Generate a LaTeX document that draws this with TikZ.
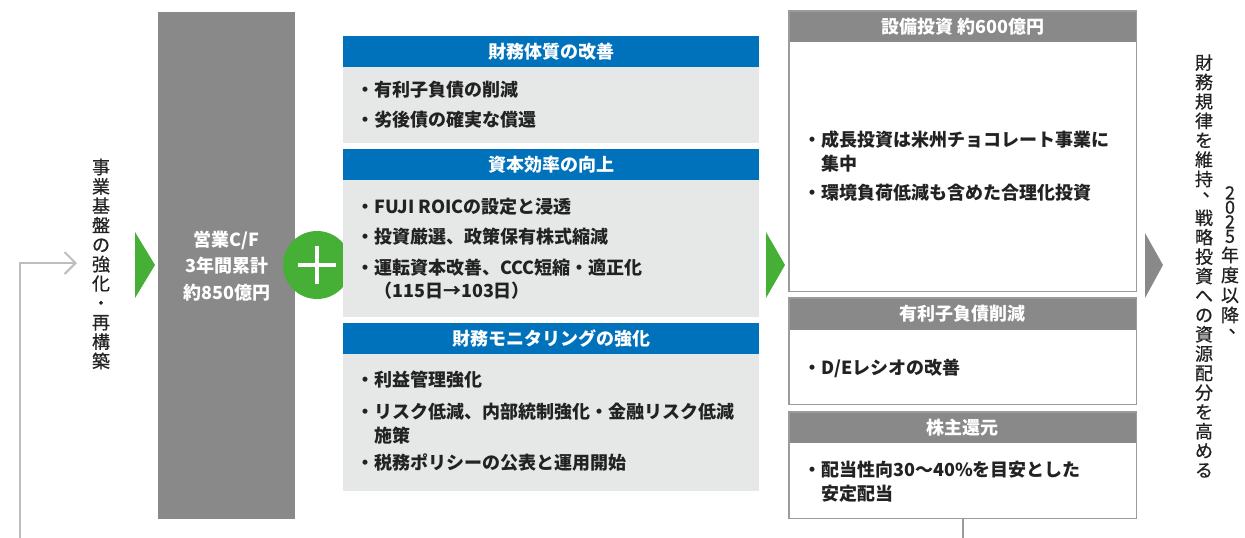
\documentclass[tikz,border=0pt]{standalone}
\usepackage{fontspec}
\setmainfont{Noto Sans CJK JP}
\newfontfamily\jpmed[FakeBold=0.7]{Noto Sans CJK JP}
\usetikzlibrary{arrows.meta}
\definecolor{cblue}{HTML}{0072BC}
\definecolor{cbody}{HTML}{E6E8E8}
\definecolor{cgray}{HTML}{898989}
\definecolor{cgreen}{HTML}{45B035}
\definecolor{clight}{HTML}{BDBDBD}
\definecolor{cborder}{HTML}{9B9B9B}
\definecolor{ctext}{HTML}{222222}
\newcommand{\vcm}{\makebox[1em][l]{\hspace*{0.42em}\raisebox{0.5em}{、}}}
\tikzset{
  hdrblue/.style={fill=cblue, anchor=north west, inner sep=0pt, minimum width=416pt, minimum height=31pt, text=white, font=\bfseries\fontsize{18}{22}\selectfont},
  bodyblue/.style={fill=cbody, anchor=north west, inner sep=0pt, minimum width=416pt},
  hdrgray/.style={fill=cgray, anchor=north west, inner sep=0pt, minimum width=347pt, minimum height=31pt, text=white, font=\bfseries\fontsize{18}{22}\selectfont},
  bodygray/.style={fill=white, anchor=north west, inner sep=0pt, minimum width=347pt},
  frame/.style={draw=cborder, line width=1.5pt},
  item/.style={anchor=west, inner sep=0pt, align=left, text=ctext, font=\bfseries\fontsize{18}{23.5}\selectfont},
  vtext/.style={inner sep=0pt, align=center, text=ctext, font=\jpmed\fontsize{18}{19.4}\selectfont},
  conn/.style={draw=clight, line width=2pt},
  conn2/.style={draw=cborder, line width=2pt},
}
\begin{document}
\begin{tikzpicture}[x=1pt,y=-1pt]
\useasboundingbox (0,0) rectangle (1245,538);

% left vertical text and feedback connector
\node[vtext] (ltext) at (101,264) {事\\業\\基\\盤\\の\\強\\化\\・\\再\\構\\築};
\coordinate (lstart) at (20,538);
\coordinate (lend) at (77,263);
\draw[conn,-{Straight Barb[length=11pt,width=22pt,line width=2pt]}] (lstart) |- (lend);

% green arrow 1
\fill[cgreen] (135,232) -- (155,265) -- (135,298) -- cycle;

% operating CF box
\node[fill=cgray, inner sep=0pt, minimum width=137pt, minimum height=507pt, anchor=north west, text=white, align=center, font=\bfseries\fontsize{18}{26.5}\selectfont] (cf) at (158,12) {営業C/F\\3年間累計\\約850億円};

% plus
\node[circle, fill=cgreen, minimum size=68pt, inner sep=0pt] (plus) at (317,265) {};
\draw[white, line width=4.7pt] ([xshift=-19pt]plus.center) -- ([xshift=19pt]plus.center);
\draw[white, line width=4.7pt] ([yshift=-19pt]plus.center) -- ([yshift=19pt]plus.center);

% section 1
\node[hdrblue] (s1h) at (343,36) {財務体質の改善};
\node[bodyblue, minimum height=76pt] (s1b) at (343,67) {};
\node[item] (s1i1) at (356,90) {・有利子負債の削減};
\node[item] (s1i2) at (356,120) {・劣後債の確実な償還};

% section 2
\node[hdrblue] (s2h) at (343,149) {資本効率の向上};
\node[bodyblue, minimum height=137pt] (s2b) at (343,180) {};
\node[item] (s2i1) at (356,207) {・FUJI ROICの設定と浸透};
\node[item] (s2i2) at (356,237) {・投資厳選、政策保有株式縮減};
\node[item] (s2i3) at (356,279) {・運転資本改善、CCC短縮・適正化\\\hspace*{1em}（115日→103日）};

% section 3
\node[hdrblue] (s3h) at (343,323) {財務モニタリングの強化};
\node[bodyblue, minimum height=137pt] (s3b) at (343,354) {};
\node[item] (s3i1) at (356,380) {・利益管理強化};
\node[item] (s3i2) at (356,423.5) {・リスク低減、内部統制強化・金融リスク低減\\\hspace*{1em}施策};
\node[item] (s3i3) at (356,463) {・税務ポリシーの公表と運用開始};

% green arrow 2
\fill[cgreen] (766,232) -- (785,265) -- (766,298) -- cycle;

% right box 1
\node[hdrgray] (b1h) at (789,11) {設備投資 約600億円};
\node[bodygray, minimum height=249pt] (b1b) at (789,42) {};
\draw[frame] (b1h.north west) rectangle (b1b.south east);
\node[item] (b1i1) at (803,151.5) {・成長投資は米州チョコレート事業に\\\hspace*{1em}集中};
\node[item] (b1i2) at (803,193) {・環境負荷低減も含めた合理化投資};

% right box 2
\node[hdrgray, minimum height=32pt] (b2h) at (789,298) {有利子負債削減};
\node[bodygray, minimum height=74pt] (b2b) at (789,330) {};
\draw[frame] (b2h.north west) rectangle (b2b.south east);
\node[item] (b2i1) at (803,368) {・D/Eレシオの改善};

% right box 3
\node[hdrgray] (b3h) at (789,412) {株主還元};
\node[bodygray, minimum height=75pt] (b3b) at (789,443) {};
\draw[frame] (b3h.north west) rectangle (b3b.south east);
\node[item] (b3i1) at (803,481.5) {・配当性向30～40\%を目安とした\\\hspace*{1em}安定配当};
\draw[conn2] (b3b.south) -- (b3b.south |- lstart);

% gray arrow
\fill[cgray] (1145,233) -- (1163,265) -- (1145,298) -- cycle;

% right vertical texts
\node[vtext] (rt1) at (1204,266) {財\\務\\規\\律\\を\\維\\持\\\vcm\\戦\\略\\投\\資\\へ\\の\\資\\源\\配\\分\\を\\高\\め\\る};
\node[vtext, font=\jpmed\fontsize{18}{20}\selectfont] (rt2) at (1230,264) {2\\[-5.5pt]0\\[-5.5pt]2\\[-5.5pt]5\\[-1pt]年\\度\\以\\降\\\vcm};
\end{tikzpicture}
\end{document}
